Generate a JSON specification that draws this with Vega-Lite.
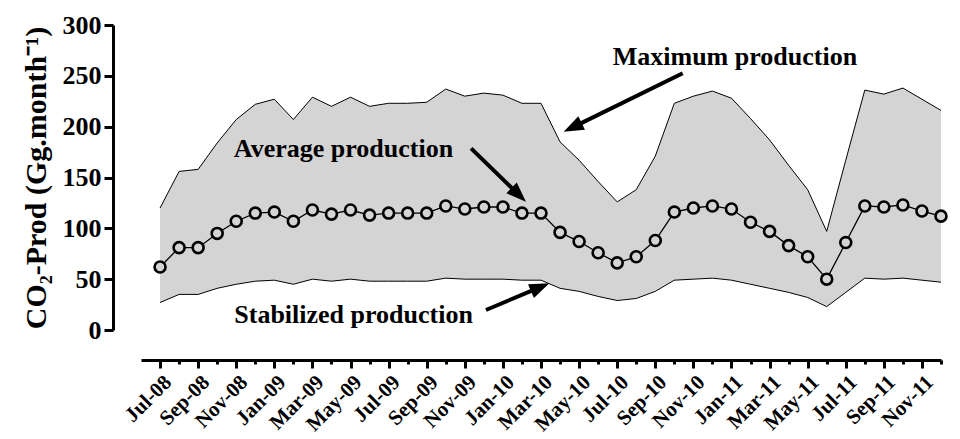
{
  "$schema": "https://vega.github.io/schema/vega-lite/v6.json",
  "width": 800,
  "height": 305,
  "autosize": "none",
  "padding": {"left": 141, "top": 25, "right": 19, "bottom": 109},
  "background": "white",
  "config": {
    "view": {"stroke": null},
    "font": "Liberation Serif"
  },
  "datasets": {
    "prod": [
      {"i": 0, "month": "Jul-08", "min": 27, "avg": 62, "max": 120},
      {"i": 1, "month": "Aug-08", "min": 35, "avg": 81, "max": 156},
      {"i": 2, "month": "Sep-08", "min": 35, "avg": 81, "max": 158},
      {"i": 3, "month": "Oct-08", "min": 41, "avg": 95, "max": 184},
      {"i": 4, "month": "Nov-08", "min": 45, "avg": 107, "max": 207},
      {"i": 5, "month": "Dec-08", "min": 48, "avg": 115, "max": 222},
      {"i": 6, "month": "Jan-09", "min": 49, "avg": 116, "max": 227},
      {"i": 7, "month": "Feb-09", "min": 45, "avg": 107, "max": 207},
      {"i": 8, "month": "Mar-09", "min": 50, "avg": 118, "max": 229},
      {"i": 9, "month": "Apr-09", "min": 48, "avg": 114, "max": 220},
      {"i": 10, "month": "May-09", "min": 50, "avg": 118, "max": 229},
      {"i": 11, "month": "Jun-09", "min": 48, "avg": 113, "max": 220},
      {"i": 12, "month": "Jul-09", "min": 48, "avg": 115, "max": 223},
      {"i": 13, "month": "Aug-09", "min": 48, "avg": 115, "max": 223},
      {"i": 14, "month": "Sep-09", "min": 48, "avg": 115, "max": 224},
      {"i": 15, "month": "Oct-09", "min": 51, "avg": 122, "max": 237},
      {"i": 16, "month": "Nov-09", "min": 50, "avg": 119, "max": 230},
      {"i": 17, "month": "Dec-09", "min": 50, "avg": 121, "max": 233},
      {"i": 18, "month": "Jan-10", "min": 50, "avg": 121, "max": 231},
      {"i": 19, "month": "Feb-10", "min": 49, "avg": 115, "max": 223},
      {"i": 20, "month": "Mar-10", "min": 49, "avg": 115, "max": 223},
      {"i": 21, "month": "Apr-10", "min": 41, "avg": 96, "max": 185},
      {"i": 22, "month": "May-10", "min": 38, "avg": 87, "max": 167},
      {"i": 23, "month": "Jun-10", "min": 33, "avg": 76, "max": 146},
      {"i": 24, "month": "Jul-10", "min": 29, "avg": 66, "max": 126},
      {"i": 25, "month": "Aug-10", "min": 31, "avg": 72, "max": 138},
      {"i": 26, "month": "Sep-10", "min": 38, "avg": 88, "max": 171},
      {"i": 27, "month": "Oct-10", "min": 49, "avg": 116, "max": 223},
      {"i": 28, "month": "Nov-10", "min": 50, "avg": 120, "max": 230},
      {"i": 29, "month": "Dec-10", "min": 51, "avg": 122, "max": 235},
      {"i": 30, "month": "Jan-11", "min": 49, "avg": 119, "max": 228},
      {"i": 31, "month": "Feb-11", "min": 45, "avg": 106, "max": 208},
      {"i": 32, "month": "Mar-11", "min": 41, "avg": 97, "max": 187},
      {"i": 33, "month": "Apr-11", "min": 37, "avg": 83, "max": 162},
      {"i": 34, "month": "May-11", "min": 32, "avg": 72, "max": 138},
      {"i": 35, "month": "Jun-11", "min": 23, "avg": 50, "max": 97},
      {"i": 36, "month": "Jul-11", "min": 37, "avg": 86, "max": 167},
      {"i": 37, "month": "Aug-11", "min": 51, "avg": 122, "max": 236},
      {"i": 38, "month": "Sep-11", "min": 50, "avg": 121, "max": 232},
      {"i": 39, "month": "Oct-11", "min": 51, "avg": 123, "max": 238},
      {"i": 40, "month": "Nov-11", "min": 49, "avg": 117, "max": 227},
      {"i": 41, "month": "Dec-11", "min": 47, "avg": 112, "max": 216}
    ],
    "notes": [
      {"label": "Maximum production", "x": 30.18, "y": 260.6},
      {"label": "Average production", "x": 9.63, "y": 170.2},
      {"label": "Stabilized production", "x": 10.16, "y": 6.9}
    ],
    "arrows": [
      {"arrow": "max", "x": 27.44, "y": 252.5, "x2": 21.9, "y2": 201.5, "tx": 21.19, "ty": 195.0},
      {"arrow": "avg", "x": 16.33, "y": 178.7, "x2": 18.65, "y2": 136.4, "tx": 19.21, "ty": 126.2},
      {"arrow": "stab", "x": 17.11, "y": 19.7, "x2": 19.71, "y2": 40.2, "tx": 20.44, "ty": 45.9}
    ]
  },
  "layer": [
    {
      "data": {"name": "prod"},
      "mark": {"type": "area", "color": "#d4d4d4", "opacity": 1},
      "encoding": {
        "x": {
          "field": "i", "type": "quantitative",
          "scale": {"domain": [-1, 41], "nice": false, "zero": false},
          "axis": {
            "offset": 30,
            "title": null,
            "grid": false,
            "tickCount": 100,
            "values": [0,1,2,3,4,5,6,7,8,9,10,11,12,13,14,15,16,17,18,19,20,21,22,23,24,25,26,27,28,29,30,31,32,33,34,35,36,37,38,39,40,41],
            "labelExpr": "datum.value % 2 == 0 ? ['Jul-08','Sep-08','Nov-08','Jan-09','Mar-09','May-09','Jul-09','Sep-09','Nov-09','Jan-10','Mar-10','May-10','Jul-10','Sep-10','Nov-10','Jan-11','Mar-11','May-11','Jul-11','Sep-11','Nov-11'][datum.value / 2] : ''",
            "labelAngle": -45,
            "labelAlign": "right",
            "labelBaseline": "top",
            "labelFont": "Liberation Serif",
            "labelFontWeight": "bold",
            "labelFontSize": 21,
            "labelColor": "black",
            "labelPadding": 3,
            "labelOverlap": false,
            "labelFlush": false,
            "labelBound": false,
            "domainColor": "black",
            "domainWidth": 3,
            "tickColor": "black",
            "tickWidth": 3,
            "tickSize": {"condition": {"test": "datum.value % 2 == 0", "value": 8}, "value": 4}
          }
        },
        "y": {
          "field": "min", "type": "quantitative",
          "scale": {"domain": [0, 300], "nice": false},
          "axis": {
            "offset": 28,
            "grid": false,
            "values": [0, 50, 100, 150, 200, 250, 300],
            "title": "CO₂-Prod (Gg.month⁻¹)",
            "titleFont": "Liberation Serif",
            "titleFontWeight": "bold",
            "titleFontSize": 30,
            "titleColor": "black",
            "titlePadding": 11,
            "labelFont": "Liberation Serif",
            "labelFontWeight": "bold",
            "labelFontSize": 26,
            "labelColor": "black",
            "labelPadding": 3,
            "domainColor": "black",
            "domainWidth": 3,
            "tickColor": "black",
            "tickWidth": 3,
            "tickSize": 9
          }
        },
        "y2": {"field": "max"}
      }
    },
    {
      "data": {"name": "prod"},
      "mark": {"type": "line", "color": "black", "strokeWidth": 1},
      "encoding": {
        "x": {"field": "i", "type": "quantitative"},
        "y": {"field": "max", "type": "quantitative"}
      }
    },
    {
      "data": {"name": "prod"},
      "mark": {"type": "line", "color": "black", "strokeWidth": 1},
      "encoding": {
        "x": {"field": "i", "type": "quantitative"},
        "y": {"field": "min", "type": "quantitative"}
      }
    },
    {
      "data": {"name": "prod"},
      "mark": {"type": "line", "color": "black", "strokeWidth": 1.3},
      "encoding": {
        "x": {"field": "i", "type": "quantitative"},
        "y": {"field": "avg", "type": "quantitative"}
      }
    },
    {
      "data": {"name": "prod"},
      "mark": {"type": "point", "shape": "circle", "filled": false, "fill": "#d4d4d4", "fillOpacity": 1, "stroke": "black", "strokeWidth": 2.6, "opacity": 1, "size": 120},
      "encoding": {
        "x": {"field": "i", "type": "quantitative"},
        "y": {"field": "avg", "type": "quantitative"}
      }
    },
    {
      "data": {"name": "notes"},
      "mark": {"type": "text", "font": "Liberation Serif", "fontWeight": "bold", "fontSize": 26, "color": "black", "align": "center", "baseline": "alphabetic"},
      "encoding": {
        "x": {"field": "x", "type": "quantitative"},
        "y": {"field": "y", "type": "quantitative"},
        "text": {"field": "label"}
      }
    },
    {
      "data": {"name": "arrows"},
      "mark": {"type": "rule", "color": "black", "strokeWidth": 4},
      "encoding": {
        "x": {"field": "x", "type": "quantitative"},
        "y": {"field": "y", "type": "quantitative"},
        "x2": {"field": "x2"},
        "y2": {"field": "y2"}
      }
    },
    {
      "data": {"name": "arrows"},
      "transform": [{"filter": "datum.arrow == 'max'"}],
      "mark": {"type": "point", "shape": "M0,0L-0.75,2L0.75,2Z", "filled": true, "color": "black", "opacity": 1, "size": 400, "angle": -116},
      "encoding": {
        "x": {"field": "tx", "type": "quantitative"},
        "y": {"field": "ty", "type": "quantitative"}
      }
    },
    {
      "data": {"name": "arrows"},
      "transform": [{"filter": "datum.arrow == 'avg'"}],
      "mark": {"type": "point", "shape": "M0,0L-0.75,2L0.75,2Z", "filled": true, "color": "black", "opacity": 1, "size": 400, "angle": 134},
      "encoding": {
        "x": {"field": "tx", "type": "quantitative"},
        "y": {"field": "ty", "type": "quantitative"}
      }
    },
    {
      "data": {"name": "arrows"},
      "transform": [{"filter": "datum.arrow == 'stab'"}],
      "mark": {"type": "point", "shape": "M0,0L-0.75,2L0.75,2Z", "filled": true, "color": "black", "opacity": 1, "size": 400, "angle": 67},
      "encoding": {
        "x": {"field": "tx", "type": "quantitative"},
        "y": {"field": "ty", "type": "quantitative"}
      }
    }
  ]
}
